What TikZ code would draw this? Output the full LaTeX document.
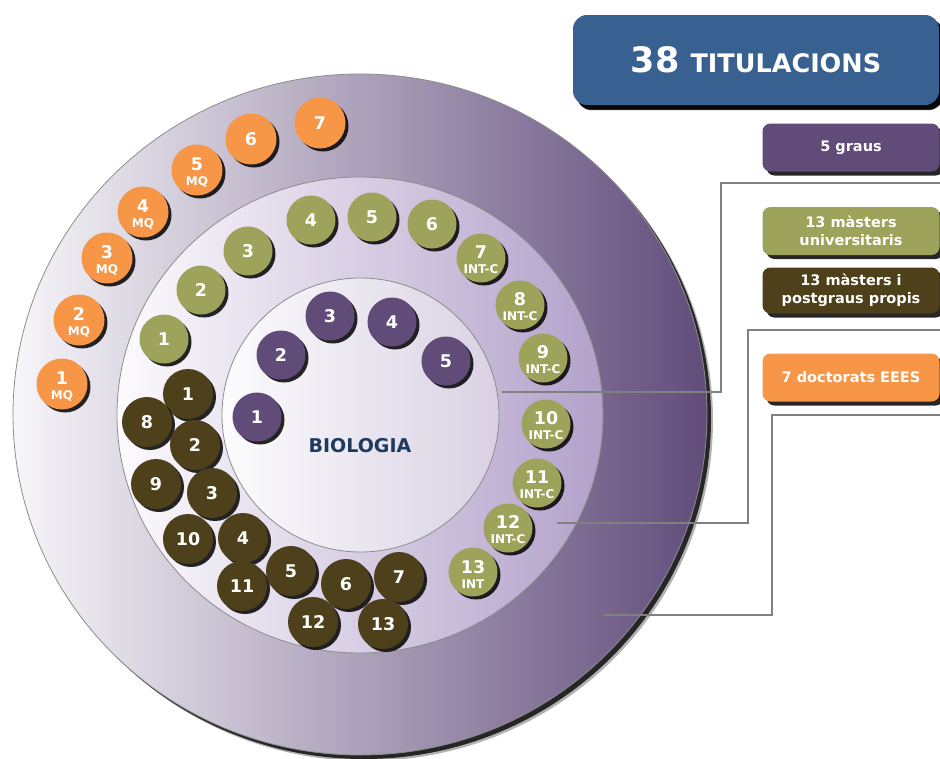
\documentclass[tikz,border=0pt]{standalone}
\usepackage{fontspec}
\setmainfont{DejaVu Sans}
\usetikzlibrary{positioning,shadows}
\definecolor{grauC}{RGB}{97,75,121}
\definecolor{muniC}{RGB}{157,163,90}
\definecolor{mpropC}{RGB}{78,64,27}
\definecolor{doctC}{RGB}{246,150,70}
\definecolor{titC}{RGB}{56,96,144}
\definecolor{bioC}{RGB}{30,58,95}
\definecolor{edgeC}{RGB}{140,140,140}
\definecolor{lineC}{RGB}{128,128,128}
\definecolor{outL}{RGB}{247,246,249}
\definecolor{outR}{RGB}{97,76,123}
\definecolor{midL}{RGB}{252,251,253}
\definecolor{midR}{RGB}{178,161,202}
\definecolor{inL}{RGB}{252,252,253}
\definecolor{inR}{RGB}{217,209,227}
\newcommand{\sublbl}[1]{\rule{0pt}{17pt}\\{\fontsize{12}{12}\selectfont #1}}

\begin{document}
\begin{tikzpicture}[x=1pt,y=-1pt,on grid,
  disc/.style={circle,minimum size=49pt,inner sep=0pt,text=white,align=center,
    font=\bfseries\fontsize{17.5}{15}\selectfont,
    drop shadow={shadow xshift=3pt,shadow yshift=-3pt,fill=black,opacity=.85}},
  grau/.style={disc,fill=grauC},
  muni/.style={disc,fill=muniC},
  mprop/.style={disc,fill=mpropC,minimum size=50pt},
  doct/.style={disc,fill=doctC,minimum size=51pt},
  box/.style={rounded corners=8pt,minimum width=177pt,minimum height=48pt,
    text=white,align=center,font=\bfseries\fontsize{14.5}{17.5}\selectfont,
    drop shadow={shadow xshift=4pt,shadow yshift=-4pt,fill=black,opacity=.85}},
  bracket/.style={draw=lineC,line width=1.6pt}]
  \useasboundingbox (0,0) rectangle (940,758);

  % rings
  \fill[black!30] (366,420.5) ellipse [x radius=347pt,y radius=340.5pt];
  \fill[black!85] (364,418.5) ellipse [x radius=347pt,y radius=340.5pt];
  \shadedraw[left color=outL,right color=outR,draw=edgeC,line width=.8pt]
    (360,414.5) ellipse [x radius=347pt,y radius=340.5pt];
  \shadedraw[left color=midL,right color=midR,draw=edgeC,line width=.8pt]
    (360,415) ellipse [x radius=243pt,y radius=238pt];
  \shadedraw[left color=inL,right color=inR,draw=edgeC,line width=.8pt]
    (360.5,415) ellipse [x radius=138.5pt,y radius=137pt];
  \node[font=\bfseries\fontsize{19}{19}\selectfont,text=bioC] (bio) at (360,446) {BIOLOGIA};

  % brackets
  \coordinate (b1a) at (940,183); \coordinate (b1b) at (721,392); \coordinate (b1c) at (502,392);
  \coordinate (b2a) at (940,330); \coordinate (b2b) at (748,523); \coordinate (b2c) at (557,523);
  \coordinate (b3a) at (940,415); \coordinate (b3b) at (772,615); \coordinate (b3c) at (603,615);
  \draw[bracket] (b1a) -| (b1b) -- (b1c);
  \draw[bracket] (b2a) -| (b2b) -- (b2c);
  \draw[bracket] (b3a) -| (b3b) -- (b3c);

  % graus
  \node[grau] (g1) at (257,417) {1};
  \node[grau] (g2) at (281,355) {2};
  \node[grau] (g3) at (330,316) {3};
  \node[grau] (g4) at (392,322) {4};
  \node[grau] (g5) at (446,361) {5};

  % masters universitaris
  \node[muni] (mu1) at (164,339) {1};
  \node[muni] (mu2) at (201,290) {2};
  \node[muni] (mu3) at (248,251) {3};
  \node[muni] (mu4) at (311,220) {4};
  \node[muni] (mu5) at (372,217) {5};
  \node[muni] (mu6) at (432,224) {6};
  \node[muni] (mu7) at (481,258) {7\sublbl{INT-C}};
  \node[muni] (mu8) at (520,305) {8\sublbl{INT-C}};
  \node[muni] (mu9) at (543,358) {9\sublbl{INT-C}};
  \node[muni] (mu10) at (546,424) {10\sublbl{INT-C}};
  \node[muni] (mu11) at (537,483) {11\sublbl{INT-C}};
  \node[muni] (mu12) at (508,528) {12\sublbl{INT-C}};
  \node[muni] (mu13) at (473,572) {13\sublbl{INT}};

  % masters propis
  \node[mprop] (mp1) at (188,394) {1};
  \node[mprop] (mp8) at (147,422) {8};
  \node[mprop] (mp2) at (195,445) {2};
  \node[mprop] (mp9) at (156,484) {9};
  \node[mprop] (mp3) at (212,493) {3};
  \node[mprop] (mp10) at (188,539) {10};
  \node[mprop] (mp4) at (243,538) {4};
  \node[mprop] (mp11) at (242,586) {11};
  \node[mprop] (mp5) at (291,571) {5};
  \node[mprop] (mp6) at (346,584) {6};
  \node[mprop] (mp12) at (313,622) {12};
  \node[mprop] (mp7) at (399,577) {7};
  \node[mprop] (mp13) at (383,624) {13};

  % doctorats
  \node[doct] (d1) at (62,384) {1\sublbl{MQ}};
  \node[doct] (d2) at (79,320) {2\sublbl{MQ}};
  \node[doct] (d3) at (107,258) {3\sublbl{MQ}};
  \node[doct] (d4) at (143,212) {4\sublbl{MQ}};
  \node[doct] (d5) at (197,170) {5\sublbl{MQ}};
  \node[doct] (d6) at (251,139) {6};
  \node[doct] (d7) at (320,123) {7};

  % legend
  \node[box,fill=titC,rounded corners=14pt,minimum width=366pt,minimum height=90pt,
    drop shadow={shadow xshift=4pt,shadow yshift=-5pt,fill=black,opacity=.85}] (tit) at (756,60)
    {{\fontsize{35}{35}\selectfont 38}\hspace{11pt}{\fontsize{25.5}{25.5}\selectfont TITULACIONS}};
  \node[box,fill=grauC] (graus) at (851,147.5) {5 graus};
  \node[box,fill=muniC,below=83.5pt of graus] (muni) {13 màsters\\universitaris};
  \node[box,fill=mpropC,minimum height=46pt,below=59.5pt of muni] (mprop) {13 màsters i\\postgraus propis};
  \node[box,fill=doctC,below=87pt of mprop] (doct) {7 doctorats EEES};
\end{tikzpicture}
\end{document}
